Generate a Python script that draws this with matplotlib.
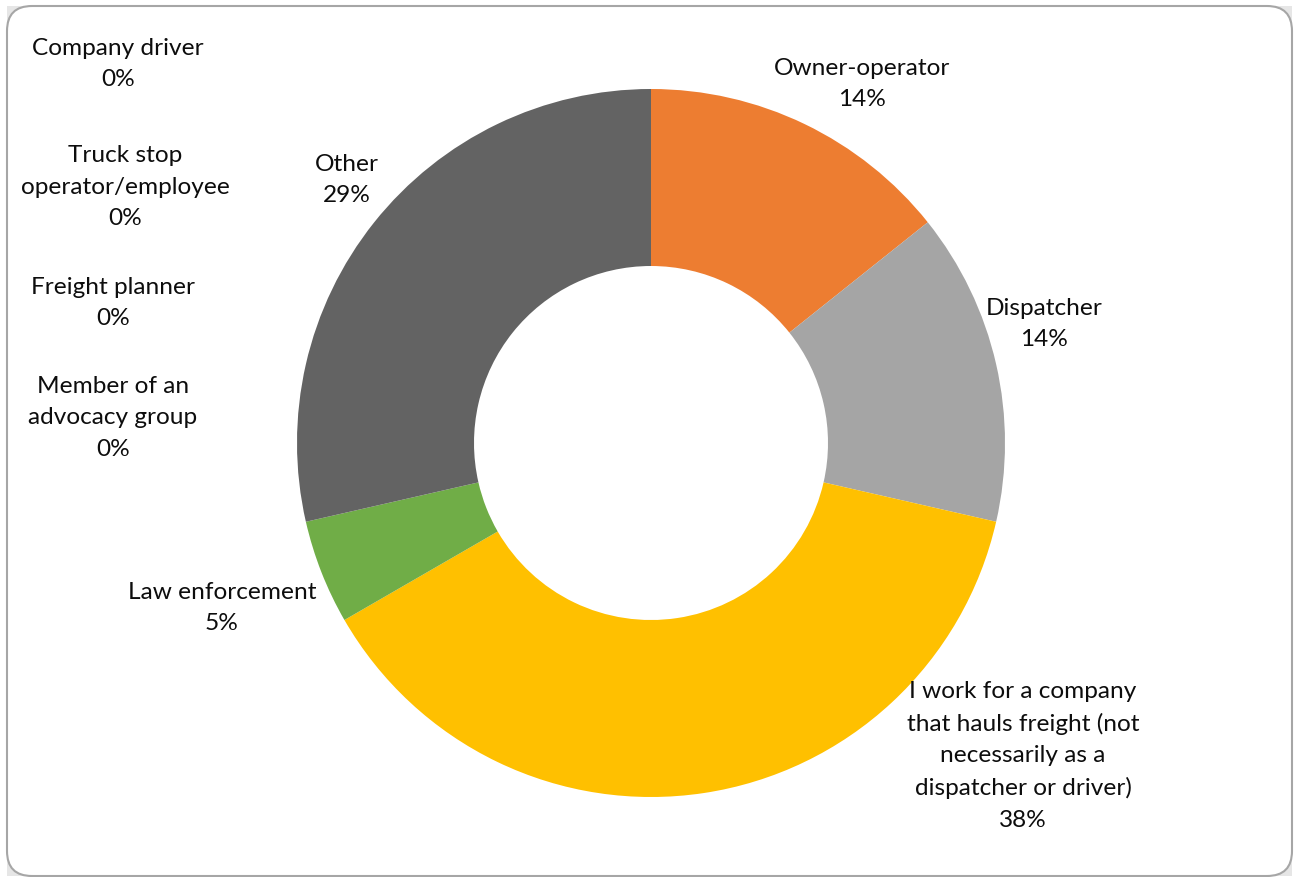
import matplotlib
matplotlib.use("Agg")
import matplotlib.pyplot as plt
from matplotlib.patches import FancyBboxPatch, Rectangle

# Respondent roles (counts), clockwise from 12 o'clock
categories = [
    "Owner-operator",
    "Dispatcher",
    "I work for a company\nthat hauls freight (not\nnecessarily as a\ndispatcher or driver)",
    "Law enforcement",
    "Member of an\nadvocacy group",
    "Freight planner",
    "Truck stop\noperator/employee",
    "Company driver",
    "Other",
]
counts = [3, 3, 8, 1, 0, 0, 0, 0, 6]
colors = ["#ED7D31", "#A5A5A5", "#FFC000", "#70AD47",
          "#4472C4", "#5B9BD5", "#264478", "#9E480E", "#636363"]

# Label anchor points in pixel space (x from left, y from top)
label_pos = [
    (862, 84), (1044, 324), (1023, 756), (222, 608),
    (113, 418), (113, 303), (125, 187), (118, 64), (347, 180),
]

W, H = 1295, 878
fig = plt.figure(figsize=(W / 100, H / 100), dpi=100)
fig.patch.set_facecolor("white")
ax = fig.add_axes([0, 0, 1, 1])

# Chart area frame with rounded corners
x0, y0, x1, y1 = 7, 1, 1292, 871
ax.add_patch(Rectangle((x0, y0), x1 - x0, y1 - y0, facecolor="#e6e6e6",
                       edgecolor="none", zorder=0))
ax.add_patch(FancyBboxPatch((x0 + 25, y0 + 25), x1 - x0 - 50, y1 - y0 - 50,
                            boxstyle="round,pad=25", facecolor="white",
                            edgecolor="#a6a6a6", linewidth=1.5, zorder=1))

cx, cy, r = 651, H - 444, 354
wedges, _ = ax.pie(counts, colors=colors, startangle=90, counterclock=False,
                   center=(cx, cy), radius=r, frame=True,
                   wedgeprops=dict(width=r * 0.5, linewidth=0))
for w in wedges:
    w.set_zorder(2)
ax.set_xlim(0, W)
ax.set_ylim(0, H)
ax.set_aspect("equal")
ax.axis("off")

total = sum(counts)
for name, c, (px, py) in zip(categories, counts, label_pos):
    pct = round(c / total * 100)
    ax.text(px, H - py, f"{name}\n{pct}%", ha="center", va="center",
            fontsize=17.6, family=["Lato", "DejaVu Sans"], color="#0d0d0d",
            linespacing=1.6, zorder=3)

fig.savefig("out.png", dpi=100)
